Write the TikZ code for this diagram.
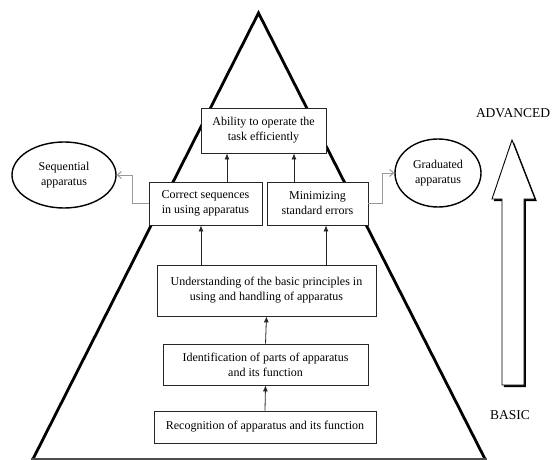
\documentclass[tikz,border=0pt]{standalone}
\usepackage{fontspec}
\setmainfont{Liberation Serif}
\usetikzlibrary{arrows.meta,shapes.geometric,shadows}
\begin{document}
\begin{tikzpicture}[x=1pt,y=-1pt,
  every node/.style={font=\fontsize{12}{15}\selectfont},
  box/.style={draw=black!85, line width=0.8pt, fill=white, align=center, inner sep=1pt,
    drop shadow={shadow xshift=1pt, shadow yshift=-1pt, fill=gray!70, opacity=1}},
  oval/.style={ellipse, draw=black, line width=1.4pt, fill=white, align=center, inner sep=0pt},
  up/.style={draw=black!85, line width=0.8pt, -{Latex[length=6pt,width=5pt]}},
  conn/.style={draw=gray!80, line width=1pt, -{Straight Barb[length=4pt,width=7pt]}},
  tri/.style={draw=black, line width=2.8pt, line join=miter},
  level/.style={font=\fontsize{13.5}{16}\selectfont}]
\useasboundingbox (0,0) rectangle (555,460);
\fill[white] (0,0) rectangle (555,460);
% pyramid
\draw[tri] (33,459) -- (258.5,13) -- (485,459);
\draw[gray!60!black, line width=2pt] (31,459) -- (487,459);
% boxes
\node[box, minimum width=125pt, minimum height=45pt] (abil) at (263.5,130.5) {Ability to operate the\\task efficiently};
\node[box, minimum width=113pt, minimum height=43pt] (corr) at (205.5,203.5) {Correct sequences\\in using apparatus};
\node[box, minimum width=101pt, minimum height=43pt] (mini) at (317.5,203.5) {Minimizing\\standard errors};
\node[box, minimum width=219pt, minimum height=51pt] (under) at (266.5,290.5) {Understanding of the basic principles in\\using and handling of apparatus};
\node[box, minimum width=205pt, minimum height=41pt] (ident) at (265.5,364.5) {Identification of parts of apparatus\\and its function};
\node[box, minimum width=222pt, minimum height=32pt] (recog) at (265,427) {Recognition of apparatus and its function};
% ellipses
\node[oval, minimum width=104pt, minimum height=66pt] (seq) at (64,175) {Sequential\\apparatus};
\node[oval, minimum width=86pt, minimum height=68pt] (grad) at (438,173) {Graduated\\apparatus};
% upward arrows
\draw[up] (recog.north) -- (ident.south);
\draw[up] (ident.north) -- (under.south);
\draw[up] (under.north -| 201,0) -- (corr.south -| 201,0);
\draw[up] (under.north -| 326,0) -- (mini.south -| 326,0);
\draw[up] (corr.north -| 227,0) -- (abil.south -| 227,0);
\draw[up] (mini.north -| 294,0) -- (abil.south -| 294,0);
% side connectors
\coordinate (lc) at (132,175);
\coordinate (rc) at (382,173);
\draw[conn] (corr.west) -- (corr.west -| lc) -- (lc) -- (seq.east);
\draw[conn] (mini.east) -- (mini.east -| rc) -- (rc) -- (grad.west);
% big arrow
\fill[black] ([shift={(1.8,2)}]512,140) -- ([shift={(1.8,2)}]535,199) -- ([shift={(1.8,2)}]524,199) -- ([shift={(1.8,2)}]524,385) -- ([shift={(1.8,2)}]502,385) -- ([shift={(1.8,2)}]502,199) -- ([shift={(1.8,2)}]492,199) -- cycle;
\draw[fill=white, line width=0.9pt, line join=miter] (512,140) -- (535,199) -- (524,199) -- (524,385) -- (502,385) -- (502,199) -- (492,199) -- cycle;
\node[level] (adv) at (513,113) {ADVANCED};
\node[level] (bas) at (510,415) {BASIC};
\end{tikzpicture}
\end{document}
